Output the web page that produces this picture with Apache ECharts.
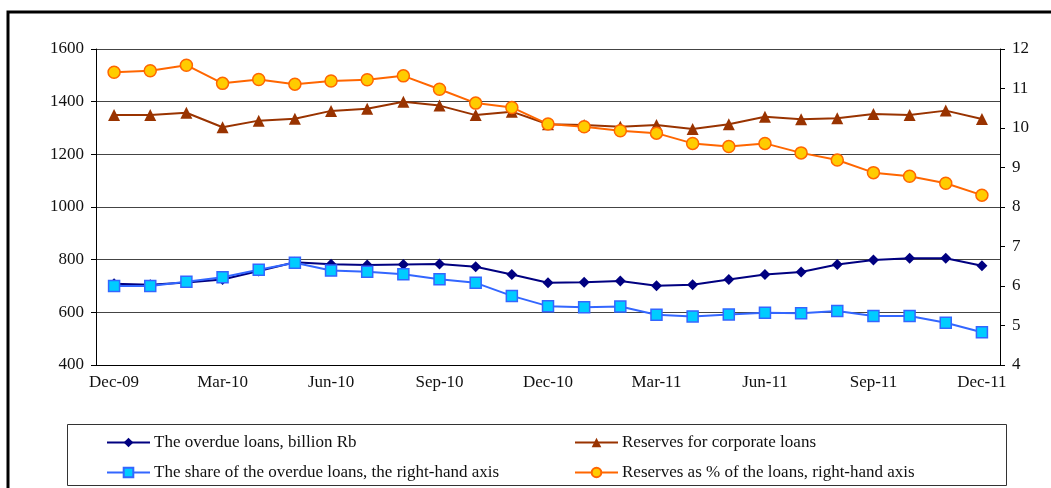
<!DOCTYPE html>
<html lang="en">
<head>
    <meta charset="UTF-8">
    <title>Overdue loans and reserves</title>
    <script src="https://cdn.jsdelivr.net/npm/echarts@6/dist/echarts.min.js"></script>
    <style>
        html, body { margin: 0; padding: 0; background: #fff; }
    </style>
</head>
<body>

    <div id="main" style="width: 1051px;height:488px;"></div>

    <script type="text/javascript">
        // months, Dec-09 .. Dec-11
        var months = ['Dec-09', 'Jan-10', 'Feb-10', 'Mar-10', 'Apr-10', 'May-10', 'Jun-10', 'Jul-10', 'Aug-10',
            'Sep-10', 'Oct-10', 'Nov-10', 'Dec-10', 'Jan-11', 'Feb-11', 'Mar-11', 'Apr-11', 'May-11',
            'Jun-11', 'Jul-11', 'Aug-11', 'Sep-11', 'Oct-11', 'Nov-11', 'Dec-11'];

        // left axis, billion Rb
        var overdueLoans = [709, 705, 713, 725, 757, 790, 783, 780, 782, 784, 773, 744, 712,
            714, 719, 701, 705, 725, 744, 753, 782, 799, 805, 805, 777];
        var reservesCorp = [1349, 1349, 1358, 1303, 1328, 1335, 1365, 1373, 1400, 1385, 1349, 1362, 1314,
            1311, 1305, 1311, 1296, 1314, 1343, 1333, 1337, 1353, 1349, 1366, 1334];

        // right axis, %
        var overdueShare = [6.0, 6.0, 6.11, 6.22, 6.41, 6.59, 6.39, 6.36, 6.30, 6.17, 6.08, 5.75, 5.49,
            5.46, 5.48, 5.27, 5.23, 5.28, 5.32, 5.31, 5.37, 5.24, 5.24, 5.07, 4.83];
        var reservesPct = [11.41, 11.45, 11.59, 11.13, 11.23, 11.11, 11.19, 11.22, 11.32, 10.98, 10.63, 10.52, 10.10,
            10.03, 9.93, 9.87, 9.61, 9.53, 9.61, 9.37, 9.19, 8.87, 8.78, 8.60, 8.30];

        var names = ['The overdue loans, billion Rb', 'Reserves for corporate loans',
            'The share of the overdue loans, the right-hand axis', 'Reserves as % of the loans, right-hand axis'];

        var font = "'Liberation Serif', 'Times New Roman', serif";

        var myChart = echarts.init(document.getElementById('main'));

        // one legend per item so the two columns line up like the original
        function legendItem(name, left, top) {
            return {
                left: left,
                top: top,
                data: [name],
                itemWidth: 43,
                itemHeight: 12,
                itemGap: 0,
                selectedMode: false,
                textStyle: { color: '#111', fontSize: 17, fontFamily: font, padding: [0, 0, 0, -1] }
            };
        }

        var option = {
            animation: false,
            backgroundColor: '#fff',
            grid: { left: 96, right: 51, top: 49, bottom: 123 },
            // outer frame + legend box
            graphic: [
                { type: 'rect', shape: { x: 8, y: 12, width: 1200, height: 600 },
                  style: { fill: 'none', stroke: '#000', lineWidth: 3 } },
                { type: 'rect', shape: { x: 67.5, y: 424.5, width: 939, height: 61 },
                  style: { fill: 'none', stroke: '#333', lineWidth: 1 } }
            ],
            legend: [
                legendItem(names[0], 101, 429),
                legendItem(names[2], 101, 459),
                legendItem(names[1], 569, 429),
                legendItem(names[3], 569, 459)
            ],
            xAxis: {
                type: 'category',
                data: months,
                boundaryGap: true,
                axisLine: { lineStyle: { color: '#000', width: 1 } },
                axisTick: { interval: 2, length: 4, lineStyle: { color: '#000' } },
                axisLabel: { interval: 2, margin: 9, color: '#111', fontSize: 17, fontFamily: font }
            },
            yAxis: [
                {
                    type: 'value', min: 400, max: 1600, interval: 200,
                    axisLine: { show: true, lineStyle: { color: '#000' } },
                    axisTick: { show: true, length: 5, lineStyle: { color: '#000' } },
                    axisLabel: { margin: 12, color: '#111', fontSize: 17, fontFamily: font,
                        formatter: function (v) { return String(v); } },
                    splitLine: { lineStyle: { color: '#444', width: 1 } }
                },
                {
                    type: 'value', min: 4, max: 12, interval: 1, position: 'right',
                    axisLine: { show: true, lineStyle: { color: '#000' } },
                    axisTick: { show: true, length: 5, lineStyle: { color: '#000' } },
                    axisLabel: { margin: 12, color: '#111', fontSize: 17, fontFamily: font,
                        formatter: function (v) { return String(v); } },
                    splitLine: { show: false }
                }
            ],
            series: [
                {
                    name: names[0], type: 'line', yAxisIndex: 0, data: overdueLoans,
                    symbol: 'diamond', symbolSize: 11,
                    lineStyle: { color: '#000080', width: 2 },
                    itemStyle: { color: '#000080' }
                },
                {
                    name: names[1], type: 'line', yAxisIndex: 0, data: reservesCorp,
                    symbol: 'triangle', symbolSize: 12,
                    lineStyle: { color: '#993300', width: 2 },
                    itemStyle: { color: '#993300' }
                },
                {
                    name: names[2], type: 'line', yAxisIndex: 1, data: overdueShare,
                    symbol: 'rect', symbolSize: 11,
                    lineStyle: { color: '#3366ff', width: 2 },
                    itemStyle: { color: '#00ccff', borderColor: '#3366ff', borderWidth: 1.5 }
                },
                {
                    name: names[3], type: 'line', yAxisIndex: 1, data: reservesPct,
                    symbol: 'circle', symbolSize: 12,
                    lineStyle: { color: '#ff6600', width: 2 },
                    itemStyle: { color: '#ffcc00', borderColor: '#ff6600', borderWidth: 1.5 }
                }
            ]
        };

        myChart.setOption(option);
    </script>
</body>
</html>
